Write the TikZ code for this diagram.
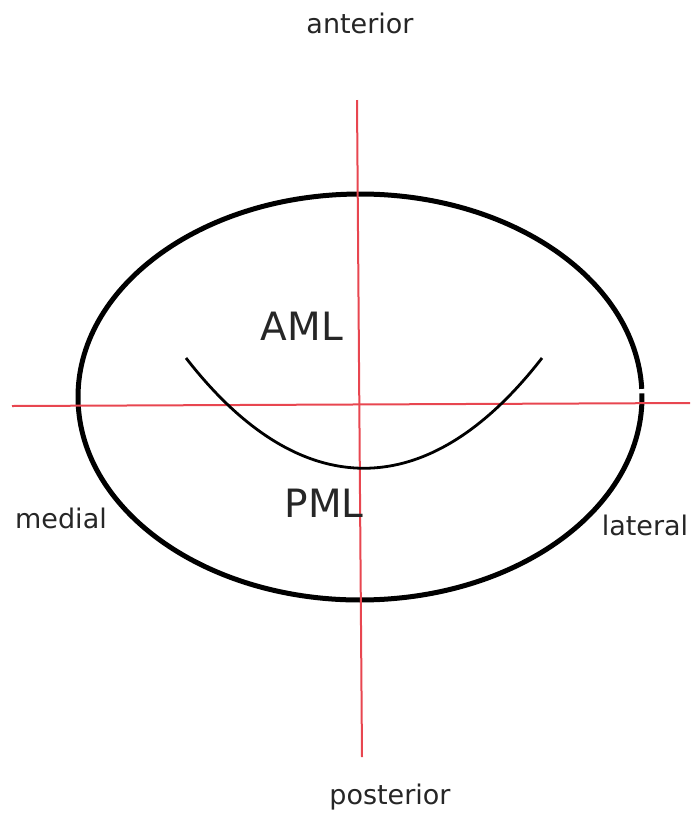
\documentclass[tikz,border=0pt]{standalone}
\usepackage{fontspec}
\setmainfont{DejaVu Sans}
\usetikzlibrary{positioning,calc}
\definecolor{axisred}{RGB}{232,70,80}

\begin{document}
\begin{tikzpicture}[
  x=1pt, y=-1pt,
  lbl/.style={font=\fontsize{27}{31}\selectfont, text=black!85, inner sep=0pt},
  leaflet/.style={font=\fontsize{39}{44}\selectfont, text=black!85, inner sep=0pt},
  axis/.style={draw=axisred, line width=2pt},
  ring/.style={draw=black, line width=5pt},
  coapt/.style={draw=black, line width=2.8pt}
]
\useasboundingbox (0,0) rectangle (693,815);

% annulus outline
\draw[ring] (360,397) ++(2.3:282 and -203) arc[start angle=2.3, end angle=361, x radius=282, y radius=-203];

% axes
\coordinate (ax-top) at (357,100);
\coordinate (ax-bot) at (362,757);
\coordinate (ax-left) at (12,406);
\coordinate (ax-right) at (690,403);
\draw[axis] (ax-top) -- (ax-bot);
\draw[axis] (ax-left) -- (ax-right);

% coaptation line
\coordinate (c-start) at (186,358);
\coordinate (c-end) at (542,358);
\draw[coapt] (c-start) .. controls (300,505) and (428,505) .. (c-end);

% labels
\node[lbl] (ant) at (360,23) {anterior};
\node[lbl] (post) at (390,797) {posterior};
\node[lbl] (med) at (61,518) {medial};
\node[lbl] (lat) at (645,525) {lateral};
\node[leaflet] (aml) at (302,326) {AML};
\node[leaflet] (pml) at (324,503) {PML};
\end{tikzpicture}
\end{document}
